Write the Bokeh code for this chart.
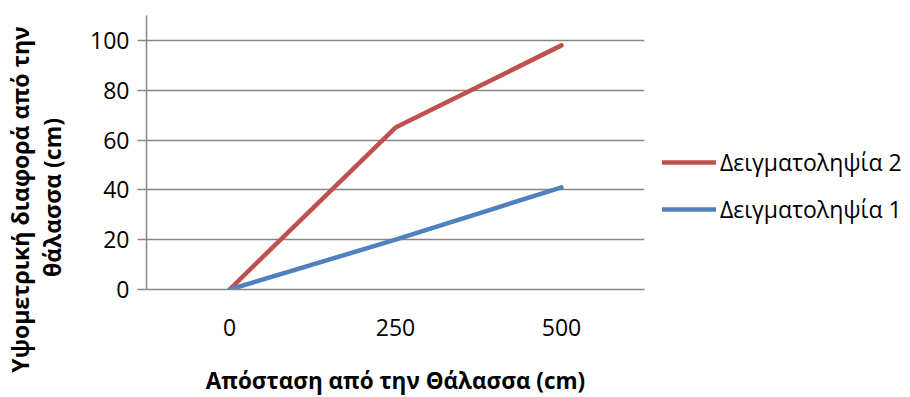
import math
from bokeh.plotting import figure
from bokeh.models import FactorRange, Range1d, FixedTicker, Legend, LegendItem
from bokeh.layouts import row
from bokeh.core.properties import value
from bokeh.embed import file_html
from bokeh.resources import INLINE

# Data
distances = ["0", "250", "500"]
sample1 = [0, 20, 41]   # Δειγματοληψία 1
sample2 = [0, 65, 98]   # Δειγματοληψία 2
y_ticks = [0, 20, 40, 60, 80, 100]
y_title_lines = ["Υψομετρική διαφορά από την", "θάλασσα (cm)"]
x_title = "Απόσταση από την Θάλασσα (cm)"

FONT = "Open Sans"
GRID = "#868686"

# ---- left strip holding the two-line y title (screen-pixel coordinates) ----
TW = 80
t = figure(width=TW, height=397, output_backend="svg", toolbar_location=None,
           x_range=Range1d(0, TW), y_range=Range1d(397, 0),
           min_border=0, outline_line_color=None)
t.frame_align = False
t.axis.visible = False
t.grid.visible = False
t.text(x=[19, 51], y=[199, 197], text=y_title_lines, angle=math.pi / 2,
       text_align="center", text_baseline="middle",
       text_font=value(FONT), text_font_size="23px", text_font_style="bold",
       text_color="#000000")

# ---- main chart ----
p = figure(output_backend="svg", toolbar_location=None,
           x_range=FactorRange(factors=distances, range_padding=0),
           y_range=Range1d(0, 110),
           min_border_left=146 - TW, min_border_right=266, min_border_top=15, min_border_bottom=108)
p.frame_align = False
p.frame_width = 498
p.frame_height = 274
p.outline_line_color = None
p.background_fill_color = "white"
p.border_fill_color = "white"

r2 = p.line(distances, sample2, line_color="#C0504D", line_width=4.5, line_cap="round", line_join="round")
r1 = p.line(distances, sample1, line_color="#4F81BD", line_width=4.5, line_cap="round", line_join="round")

p.xgrid.grid_line_color = None
p.ygrid.grid_line_color = GRID
p.ygrid.grid_line_width = 1.5
p.yaxis.ticker = FixedTicker(ticks=y_ticks)

for ax in (p.xaxis[0], p.yaxis[0]):
    ax.axis_line_color = GRID
    ax.axis_line_width = 1.5
    ax.major_tick_line_color = GRID
    ax.major_tick_line_width = 1.5
    ax.minor_tick_line_color = None
    ax.major_label_text_font = FONT
    ax.major_label_text_font_size = "23px"
    ax.major_label_text_color = "#000000"
    ax.axis_label_text_font = FONT
    ax.axis_label_text_font_size = "22.5px"
    ax.axis_label_text_font_style = "bold"
    ax.axis_label_text_color = "#000000"

p.yaxis.major_tick_out = 9
p.yaxis.major_tick_in = 0
p.yaxis.major_label_standoff = 8

p.xaxis.major_tick_out = 0
p.xaxis.major_tick_in = 0
p.xaxis.major_label_standoff = 29
p.xaxis.axis_label = x_title
p.xaxis.axis_label_standoff = 26

legend = Legend(items=[LegendItem(label="Δειγματοληψία 2", renderers=[r2]),
                       LegendItem(label="Δειγματοληψία 1", renderers=[r1])],
                location=(18, 64), orientation="vertical",
                glyph_width=54, glyph_height=20, spacing=15, padding=0, margin=0,
                label_standoff=4, label_text_font=FONT, label_text_font_size="23px",
                label_text_color="#000000", border_line_color=None,
                background_fill_alpha=0)
p.add_layout(legend, "right")

layout = row(t, p, spacing=0)
open("out.html", "w").write(file_html(layout, INLINE))
